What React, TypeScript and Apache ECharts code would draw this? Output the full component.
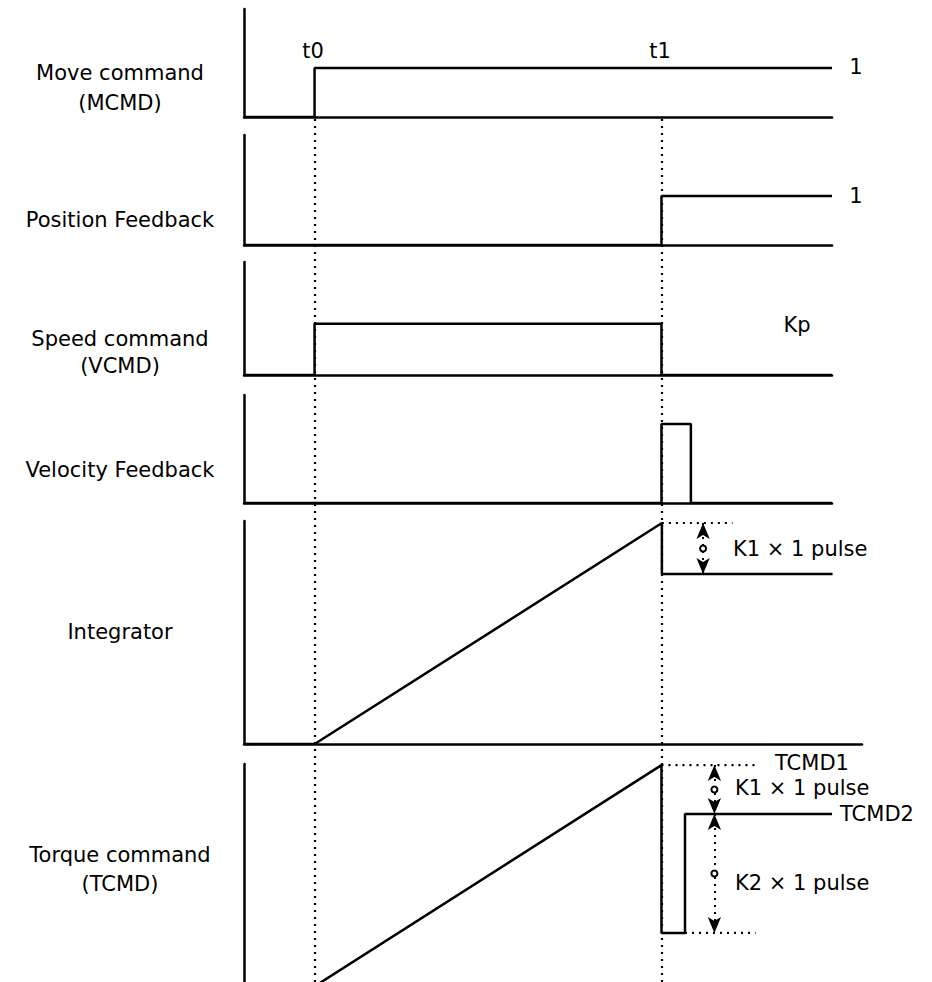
import React, { useEffect, useRef } from "react";
import * as echarts from "echarts";

// ---- time marks (x units: 0..100 across the plot width) ----
const timeMarks = [12, 71];
const timeNames = ["t0", "t1"];

// ---- signals (x = time, y = level) ----
const mcmdX = [0, 12, 12, 100];
const mcmdY = [0, 0, 1, 1];

const posFbX = [0, 71, 71, 100];
const posFbY = [0, 0, 1, 1];

const vcmdX = [0, 12, 12, 71, 71, 100];
const vcmdY = [0, 0, 1, 1, 0, 0];

const velFbX = [0, 71, 71, 76, 76, 100];
const velFbY = [0, 0, 1, 1, 0, 0];

const integX = [0, 12, 71, 71, 100];
const integY = [0, 0, 9.91, 7.62, 7.62];

const tcmdX = [12, 71, 71, 75, 75, 100];
const tcmdY = [-0.2, 9.95, 2.25, 2.25, 7.71, 7.71];

// ---- annotation levels ----
const integPeak = 9.91;
const integDrop = 7.62;
const integGuideEnd = 83;
const integArrowX = 78;

const tcmd1 = 9.95;
const tcmd2 = 7.71;
const tcmdLow = 2.25;
const tcmdGuideEnd = 87;
const tcmdArrowX = 80;

// ---- panel labels ----
const panelLabels = [
  ["Move command", "(MCMD)"],
  ["Position Feedback"],
  ["Speed command", "(VCMD)"],
  ["Velocity Feedback"],
  ["Integrator"],
  ["Torque command", "(TCMD)"],
];

const zip = (xs: number[], ys: number[]) => xs.map((x, i) => [x, ys[i]]);

const FONT = '21px "DejaVu Sans", sans-serif';
const INK = "#000";

export default function App() {
  const ref = useRef<HTMLDivElement>(null);

  useEffect(() => {
    if (!ref.current) return;
    const chart = echarts.init(ref.current, undefined, { renderer: "svg" });

    const panels = [
      { top: 9, height: 108, width: 588, xMax: 100, yMin: 0, yMax: 2.2, base: true },
      { top: 135, height: 110, width: 588, xMax: 100, yMin: 0, yMax: 2.25, base: true },
      { top: 262, height: 113, width: 588, xMax: 100, yMin: 0, yMax: 2.2, base: true },
      { top: 395, height: 108, width: 588, xMax: 100, yMin: 0, yMax: 1.367, base: true },
      { top: 521, height: 223, width: 618, xMax: 105, yMin: 0, yMax: 10, base: true },
      { top: 764, height: 218, width: 588, xMax: 100, yMin: 0, yMax: 10, base: false },
      // overlay for the dotted time markers
      { top: 119, height: 863, width: 588, xMax: 100, yMin: 0, yMax: 1, base: false },
    ];

    const axisLine = { show: true, onZero: false, lineStyle: { color: INK, width: 2.5 } };
    const grid = panels.map((p) => ({ left: 244, top: p.top, width: p.width, height: p.height }));
    const xAxis = panels.map((p, i) => ({
      type: "value",
      gridIndex: i,
      min: 0,
      max: p.xMax,
      axisLine: p.base ? axisLine : { show: false },
      axisTick: { show: false },
      axisLabel: { show: false },
      splitLine: { show: false },
    }));
    const yAxis = panels.map((p, i) => ({
      type: "value",
      gridIndex: i,
      min: p.yMin,
      max: p.yMax,
      axisLine: i === 6 ? { show: false } : axisLine,
      axisTick: { show: false },
      axisLabel: { show: false },
      splitLine: { show: false },
    }));

    const solid = { color: INK, width: 2.5 };
    const dotted = { color: INK, width: 2.2, type: [2, 5] as any, cap: "butt" };

    const sig = (i: number, data: number[][]) => ({
      type: "line",
      xAxisIndex: i,
      yAxisIndex: i,
      data,
      showSymbol: false,
      symbol: "none",
      lineStyle: solid,
      silent: true,
    });
    const dot = (i: number, data: number[][]) => ({
      type: "line",
      xAxisIndex: i,
      yAxisIndex: i,
      data,
      showSymbol: false,
      symbol: "none",
      lineStyle: dotted,
      silent: true,
    });
    const arrow = (i: number, x: number, y1: number, y2: number) => ({
      type: "line",
      xAxisIndex: i,
      yAxisIndex: i,
      data: [],
      silent: true,
      markLine: {
        silent: true,
        symbol: ["arrow", "arrow"],
        symbolSize: [10, 16],
        label: { show: false },
        lineStyle: { ...dotted, width: 2 },
        itemStyle: { color: INK },
        data: [[{ coord: [x, y1] }, { coord: [x, y2] }]],
      },
      markPoint: {
        silent: true,
        symbol: "circle",
        symbolSize: 6,
        itemStyle: { color: "#fff", borderColor: INK, borderWidth: 2 },
        label: { show: false },
        data: [{ coord: [x, (y1 + y2) / 2] }],
      },
    });

    const series: any[] = [
      sig(0, zip(mcmdX, mcmdY)),
      sig(1, zip(posFbX, posFbY)),
      sig(2, zip(vcmdX, vcmdY)),
      sig(3, zip(velFbX, velFbY)),
      sig(4, zip(integX, integY)),
      sig(5, zip(tcmdX, tcmdY)),
      dot(4, [[timeMarks[1], integPeak], [integGuideEnd, integPeak]]),
      dot(5, [[timeMarks[1], tcmd1], [tcmdGuideEnd, tcmd1]]),
      dot(5, [[tcmdX[3], tcmdLow], [tcmdGuideEnd, tcmdLow]]),
      arrow(4, integArrowX, integPeak, integDrop),
      arrow(5, tcmdArrowX, tcmd1, tcmd2),
      arrow(5, tcmdArrowX, tcmd2, tcmdLow),
      {
        type: "line",
        xAxisIndex: 6,
        yAxisIndex: 6,
        data: [],
        silent: true,
        markLine: {
          silent: true,
          symbol: ["none", "none"],
          label: { show: false },
          lineStyle: dotted,
          data: timeMarks.map((t) => ({ xAxis: t })),
        },
      },
    ];

    const txt = (x: number, y: number, text: string, align = "center") => ({
      type: "text",
      x,
      y,
      silent: true,
      style: { text, font: FONT, fill: INK, align, verticalAlign: "middle" },
    });

    const labelRows = [
      [73, 103],
      [220],
      [339, 366],
      [470],
      [632],
      [855, 884],
    ];
    const graphics: any[] = [];
    panelLabels.forEach((lines, i) =>
      lines.forEach((l, j) => graphics.push(txt(120, labelRows[i][j], l)))
    );
    graphics.push(txt(313, 51, timeNames[0]));
    graphics.push(txt(660, 51, timeNames[1]));
    graphics.push(txt(856, 67, "1"));
    graphics.push(txt(856, 196, "1"));
    graphics.push(txt(797, 325, "Kp"));
    graphics.push(txt(733, 549, "K1 × 1 pulse", "left"));
    graphics.push(txt(775, 763, "TCMD1", "left"));
    graphics.push(txt(735, 788, "K1 × 1 pulse", "left"));
    graphics.push(txt(840, 814, "TCMD2", "left"));
    graphics.push(txt(735, 883, "K2 × 1 pulse", "left"));

    chart.setOption({
      animation: false,
      backgroundColor: "#fff",
      grid,
      xAxis,
      yAxis,
      series,
      graphic: graphics,
    });
    return () => chart.dispose();
  }, []);

  return (
    <div
      ref={ref}
      style={{ position: "fixed", left: 0, top: 0, width: 932, height: 982, background: "#fff" }}
    />
  );
}
